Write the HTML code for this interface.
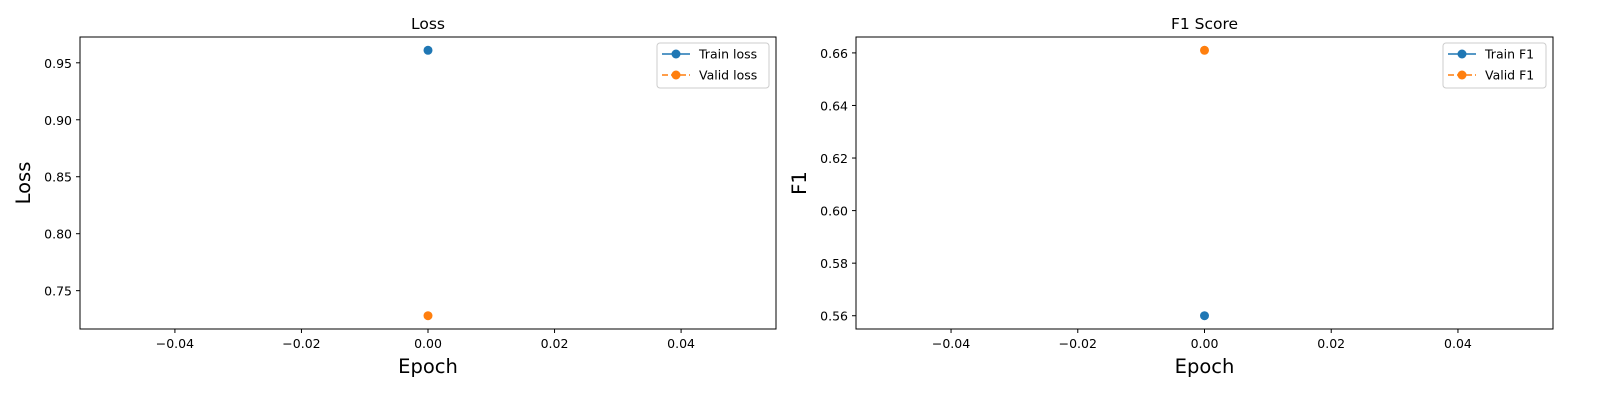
<!DOCTYPE html>
<html><head><meta charset="utf-8"><style>
html,body{margin:0;padding:0;background:#fff;width:1600px;height:400px;overflow:hidden;}
svg{display:block;font-family:"DejaVu Sans","Liberation Sans",sans-serif;}
</style></head><body>
<svg id="s" width="1600" height="400" viewBox="0 0 1600 400"></svg>
<script>
const lossTrain=[0.961], lossValid=[0.728];
const f1Train=[0.560], f1Valid=[0.661];
const epochs=[0];
const xTicks=[-0.04,-0.02,0.00,0.02,0.04];
const lossTicks=[0.75,0.80,0.85,0.90,0.95];
const f1Ticks=[0.56,0.58,0.60,0.62,0.64,0.66];
const NS="http://www.w3.org/2000/svg";
const svg=document.getElementById('s');
function mk(t,a,p){const e=document.createElementNS(NS,t);for(const k in a)e.setAttribute(k,a[k]);(p||svg).appendChild(e);return e;}
function panel(name,L,R,T,B,title,ylab,tr,va,yt,ydec,legA,legB,legX){
  const g=mk('g',{});
  
  
  const all=tr.concat(va);let lo=Math.min(...all),hi=Math.max(...all);const m=(hi-lo)*0.05;lo-=m;hi+=m;
  const xs=v=>L+(v+0.055)/0.11*(R-L);
  const ys=v=>B-(v-lo)/(hi-lo)*(B-T);
  mk('rect',{x:L,y:T,width:R-L,height:B-T,fill:'none',stroke:'#000','stroke-width':1},g);
  xTicks.forEach(t=>{const x=xs(t);mk('line',{x1:x,x2:x,y1:B,y2:B+4,stroke:'#000'},g);
    const tx=mk('text',{x:x,y:B+19,'text-anchor':'middle','font-size':'12.5'},g);tx.textContent=t.toFixed(2).replace('-','\u2212');});
  yt.forEach(t=>{const y=ys(t);mk('line',{x1:L-4,x2:L,y1:y,y2:y,stroke:'#000'},g);
    const tx=mk('text',{x:L-8,y:y+5,'text-anchor':'end','font-size':'12.5'},g);tx.textContent=t.toFixed(ydec);});
  const ti=mk('text',{x:(L+R)/2,y:T-8,'text-anchor':'middle','font-size':'15.5'},g);ti.textContent=title;
  
  const xl=mk('text',{x:(L+R)/2,y:B+44,'text-anchor':'middle','font-size':'19.5'},g);xl.textContent='Epoch';
  
  const yl=mk('text',{x:0,y:0,'text-anchor':'middle','font-size':'19.5',transform:`translate(${L-50},${(T+B)/2}) rotate(-90)`},g);yl.textContent=ylab;
  
  epochs.forEach((e,i)=>{
    const p1=mk('circle',{cx:xs(e),cy:ys(tr[i]),r:4.5,fill:'#1f77b4'},g);
    
    const p2=mk('circle',{cx:xs(e),cy:ys(va[i]),r:4.5,fill:'#ff7f0e'},g);
    
  });
  const lg=mk('g',{},g);
  const w=R-7-legX;
  mk('rect',{x:legX,y:T+6,width:w,height:45,rx:3,fill:'#fff',stroke:'#ccc'},lg);
  [[legA,'#1f77b4',''],[legB,'#ff7f0e','6,3']].forEach((d,i)=>{const y=T+17+i*21;
    mk('line',{x1:legX+5,x2:legX+33,y1:y,y2:y,stroke:d[1],'stroke-width':1.5,'stroke-dasharray':d[2]},lg);
    mk('circle',{cx:legX+19,cy:y,r:4.5,fill:d[1]},lg);
    const t=mk('text',{x:legX+42,y:y+4.5,'font-size':'12.5'},lg);t.textContent=d[0];});
}
panel('loss',80,776,37,329,'Loss','Loss',lossTrain,lossValid,lossTicks,2,'Train loss','Valid loss',657);
panel('f1',856,1553,37,329,'F1 Score','F1',f1Train,f1Valid,f1Ticks,2,'Train F1','Valid F1',1443);
</script>
</body></html>
